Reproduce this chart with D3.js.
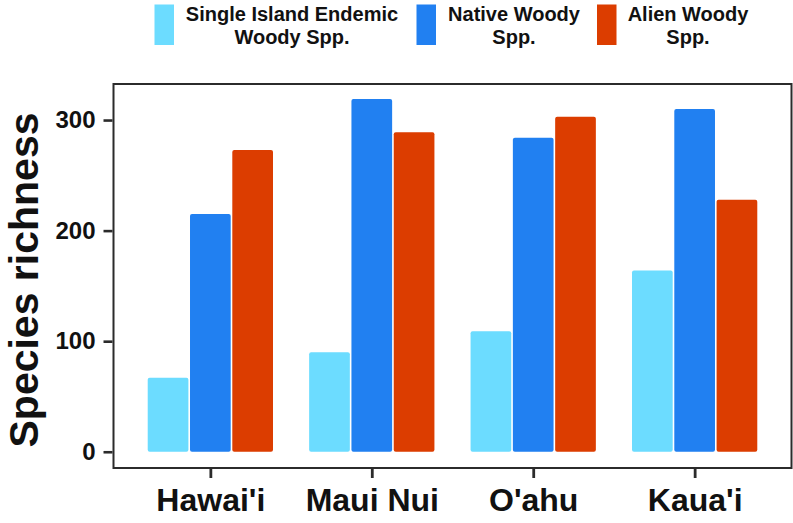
<!DOCTYPE html>
<html>
<head>
<meta charset="utf-8">
<script src="https://cdn.jsdelivr.net/npm/d3@7"></script>
<style>
  html, body { margin: 0; padding: 0; background: #fff; }
  svg { display: block; }
  text { font-family: "Liberation Sans", Arial, Helvetica, sans-serif; font-weight: bold; }
</style>
</head>
<body>
<svg id="chart" width="793" height="523"></svg>
<script>
// ---- data ----
const islands = ["Hawai'i", "Maui Nui", "O'ahu", "Kaua'i"];
const seriesNames = ["Single Island Endemic Woody Spp.", "Native Woody Spp.", "Alien Woody Spp."];
const legendLines = [["Single Island Endemic", "Woody Spp."], ["Native Woody", "Spp."], ["Alien Woody", "Spp."]];
const singleIslandEndemic = [67, 90, 109, 164];
const nativeWoody = [215, 319, 284, 310];
const alienWoody = [273, 289, 303, 228];
const yTicks = [0, 100, 200, 300];
const colors = ["#6cdcff", "#2180f1", "#dc3d00"];

const seriesValues = [singleIslandEndemic, nativeWoody, alienWoody];

const svg = d3.select("#chart");
const panel = { left: 113.5, right: 791.5, top: 84, bottom: 468 };

const x = d3.scalePoint().domain(islands).range([panel.left, panel.right]).padding(0.6);
const groupW = x.step() * 0.786;
const xi = d3.scaleBand().domain(d3.range(seriesNames.length)).range([-groupW / 2, groupW / 2]).padding(0);
const y = d3.scaleLinear().domain([-14.7, 332.6]).range([panel.bottom, panel.top]);

// bars
const barData = [];
islands.forEach((isl, i) => {
  seriesValues.forEach((vals, s) => barData.push({ isl, s, v: vals[i] }));
});
svg.append("g").selectAll("rect").data(barData).join("rect")
  .attr("x", d => x(d.isl) + xi(d.s) + 0.8)
  .attr("width", xi.bandwidth() - 1.6)
  .attr("y", d => y(d.v))
  .attr("height", d => y(0) - y(d.v))
  .attr("rx", 2).attr("ry", 2)
  .attr("fill", d => colors[d.s]);

// panel border
svg.append("rect")
  .attr("x", panel.left).attr("y", panel.top)
  .attr("width", panel.right - panel.left).attr("height", panel.bottom - panel.top)
  .attr("fill", "none").attr("stroke", "#2b2b2b").attr("stroke-width", 2);

// y axis
const yAxis = d3.axisLeft(y).tickValues(yTicks).tickSize(9).tickPadding(8);
const gy = svg.append("g").attr("transform", `translate(${panel.left - 1},0)`).call(yAxis);
gy.select(".domain").remove();
gy.selectAll(".tick line").attr("stroke", "#2b2b2b").attr("stroke-width", 2.6);
gy.selectAll(".tick text").attr("font-size", 24).attr("fill", "#111")
  .style("font-family", '"Liberation Sans", Arial, sans-serif').style("font-weight", "bold");

// x axis
const xAxis = d3.axisBottom(x).tickSize(9).tickPadding(10);
const gx = svg.append("g").attr("transform", `translate(0,${panel.bottom + 1})`).call(xAxis);
gx.select(".domain").remove();
gx.selectAll(".tick line").attr("stroke", "#2b2b2b").attr("stroke-width", 2.8);
gx.selectAll(".tick text").attr("font-size", 32).attr("fill", "#111").attr("dy", "0.72em")
  .style("font-family", '"Liberation Sans", Arial, sans-serif').style("font-weight", "bold");

// y title
svg.append("text")
  .attr("transform", "translate(38,280) rotate(-90)")
  .attr("text-anchor", "middle")
  .attr("font-size", 41).attr("fill", "#111")
  .text("Species richness");

// legend
const legendKeyX = [154.5, 416.5, 597];
const legendTextCx = [292, 514, 688];
const lg = svg.append("g");
seriesNames.forEach((name, s) => {
  lg.append("rect").attr("x", legendKeyX[s]).attr("y", 4.5).attr("width", 19.5).attr("height", 40.5)
    .attr("fill", colors[s]);
  const t = lg.append("text").attr("text-anchor", "middle").attr("font-size", 20).attr("fill", "#111");
  legendLines[s].forEach((ln, k) => {
    t.append("tspan").attr("x", legendTextCx[s]).attr("y", 21.3 + k * 23).text(ln);
  });
});
</script>
</body>
</html>
